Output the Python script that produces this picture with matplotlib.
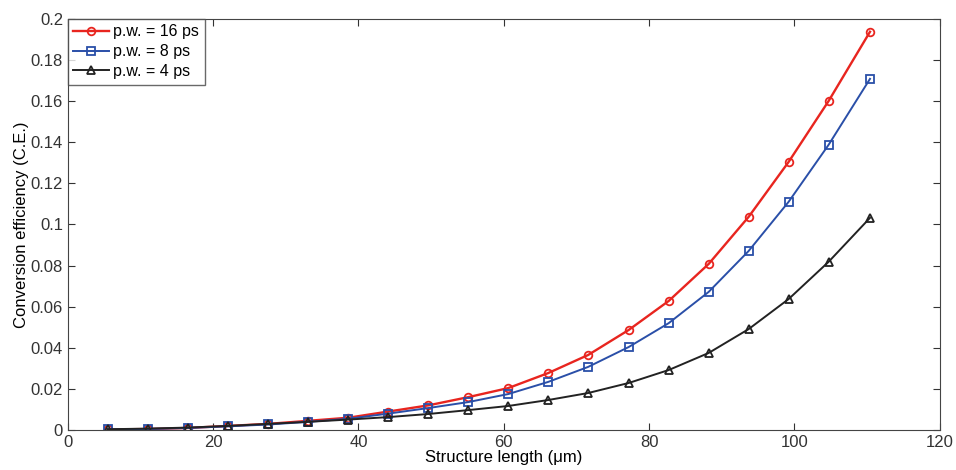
import matplotlib.pyplot as plt

plt.rcParams['font.family'] = ['Liberation Sans', 'DejaVu Sans']

length = [5.5, 11.0, 16.5, 22.0, 27.6, 33.1, 38.6, 44.1, 49.6, 55.1,
          60.6, 66.1, 71.6, 77.2, 82.7, 88.2, 93.7, 99.2, 104.7, 110.4]
ce_16ps = [0.0003, 0.0005, 0.001, 0.002, 0.003, 0.0045, 0.006, 0.009, 0.012, 0.016,
           0.0204, 0.0277, 0.0365, 0.0487, 0.0628, 0.0808, 0.1037, 0.1304, 0.160, 0.1937]
ce_8ps = [0.0003, 0.0005, 0.001, 0.0018, 0.0027, 0.004, 0.0055, 0.008, 0.0107, 0.0136,
          0.0175, 0.0234, 0.0307, 0.0404, 0.052, 0.0672, 0.0871, 0.111, 0.1387, 0.1708]
ce_4ps = [0.0004, 0.0007, 0.0012, 0.002, 0.003, 0.004, 0.0051, 0.0063, 0.0078, 0.0097,
          0.0117, 0.0146, 0.018, 0.0229, 0.0292, 0.0375, 0.0491, 0.0637, 0.0818, 0.1032]

fig = plt.figure(figsize=(9.56, 4.70), dpi=100)
ax = fig.add_axes([0.071, 0.085, 0.912, 0.875])

ax.plot(length, ce_16ps, '-o', color='#e8251f', mfc='none', ms=5.5, mew=1.3, lw=1.7, label='p.w. = 16 ps')
ax.plot(length, ce_8ps, '-s', color='#2a4fa8', mfc='none', ms=5.5, mew=1.3, lw=1.4, label='p.w. = 8 ps')
ax.plot(length, ce_4ps, '-^', color='#222222', mfc='none', ms=5.5, mew=1.3, lw=1.4, label='p.w. = 4 ps')

ax.set_xlim(0, 120)
ax.set_ylim(0, 0.2)
ax.set_xticks(range(0, 121, 20))
ax.set_yticks([i * 0.02 for i in range(11)])
ax.set_yticklabels(['0', '0.02', '0.04', '0.06', '0.08', '0.1', '0.12', '0.14', '0.16', '0.18', '0.2'])
ax.tick_params(direction='in', top=True, right=True, labelsize=12, colors='#333333', length=5)
for s in ax.spines.values():
    s.set_color('#444444')

ax.set_xlabel('Structure length (\u03bcm)', fontsize=12, labelpad=0)
ax.set_ylabel('Conversion efficiency (C.E.)', fontsize=12, labelpad=1)

leg = ax.legend(loc='upper left', fontsize=11.5, fancybox=False, borderaxespad=0,
                handlelength=2.2, borderpad=0.35, labelspacing=0.3, handletextpad=0.3)
leg.get_frame().set_edgecolor('#444444')
leg.get_frame().set_linewidth(1.0)

fig.savefig('out.png', dpi=100)
